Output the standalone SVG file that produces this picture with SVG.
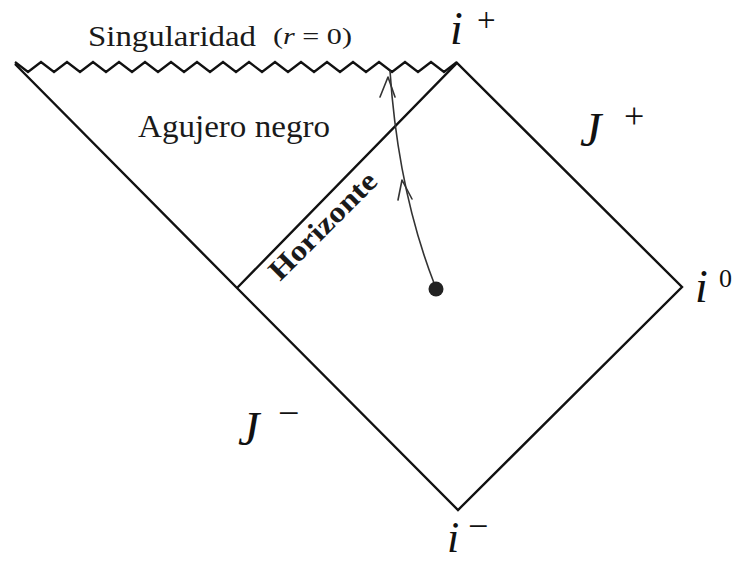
<svg xmlns="http://www.w3.org/2000/svg" width="738" height="563" viewBox="0 0 738 563">
<style>
.ln{fill:none;stroke:#111;stroke-width:2.4;stroke-linejoin:miter}
.zz{fill:none;stroke:#111;stroke-width:2.3;stroke-linejoin:miter}
.wl{fill:none;stroke:#333;stroke-width:1.6;stroke-linecap:round;stroke-linejoin:round}
.lab{font-family:"Liberation Serif","DejaVu Serif",serif;fill:#1a1a1a}
.math{font-family:"Liberation Serif","DejaVu Serif",serif;font-style:italic;fill:#111}
.sup{font-family:"Liberation Serif","DejaVu Serif",serif;fill:#111}
</style>
<rect width="738" height="563" fill="#fff"/>
<g id="connectors">
<polyline class="zz" points="15,62 28,72 41,62 54,72 67,62 80,72 93,62 106,72 119,62 132,72 145,62 158,72 171,62 184,72 197,62 210,72 223,62 236,72 249,62 262,72 275,62 288,72 301,62 314,72 327,62 340,72 353,62 366,72 379,62 392,72 405,62 418,72 431,62 444,72 457,62"/>
<polyline class="ln" points="15,64 237,288 458,510 682,287 457,63 237,288"/>
<path class="wl" d="M434 283 Q398 190 390 71"/>
<path class="wl" d="M398 200 L402 180 L412 199"/>
<path class="wl" d="M380 97 L388 77 L395 97"/>
</g>
<g id="observer"><circle cx="436" cy="289" r="7.5" fill="#222"/></g>
<g id="singularity"><text class="lab" x="88" y="46" font-size="30" textLength="168" lengthAdjust="spacingAndGlyphs">Singularidad</text>
<text class="lab" x="273" y="44" font-size="23" textLength="79" lengthAdjust="spacingAndGlyphs">(<tspan font-style="italic">r</tspan> = 0)</text></g>
<g id="blackhole"><text class="lab" x="138" y="137" font-size="31" textLength="192" lengthAdjust="spacingAndGlyphs">Agujero negro</text></g>
<g id="horizon"><text class="lab" transform="translate(280,282) rotate(-45)" font-size="29" font-weight="bold" fill="#3a3a3a" textLength="140" lengthAdjust="spacingAndGlyphs">Horizonte</text></g>
<g id="iplus"><text class="math" x="450" y="44" font-size="46">i</text><text class="sup" x="477" y="31" font-size="33">+</text></g>
<g id="scriplus"><text class="math" x="580" y="146" font-size="48">J</text><text class="sup" x="624" y="128" font-size="36">+</text></g>
<g id="izero"><text class="math" x="695" y="302" font-size="46">i</text><text class="sup" x="719" y="287" font-size="26">0</text></g>
<g id="scriminus"><text class="math" x="238" y="445" font-size="48">J</text><text class="sup" x="278" y="426" font-size="38">−</text></g>
<g id="iminus"><text class="math" x="447" y="552" font-size="44">i</text><text class="sup" x="468" y="538" font-size="36">−</text></g>
</svg>
